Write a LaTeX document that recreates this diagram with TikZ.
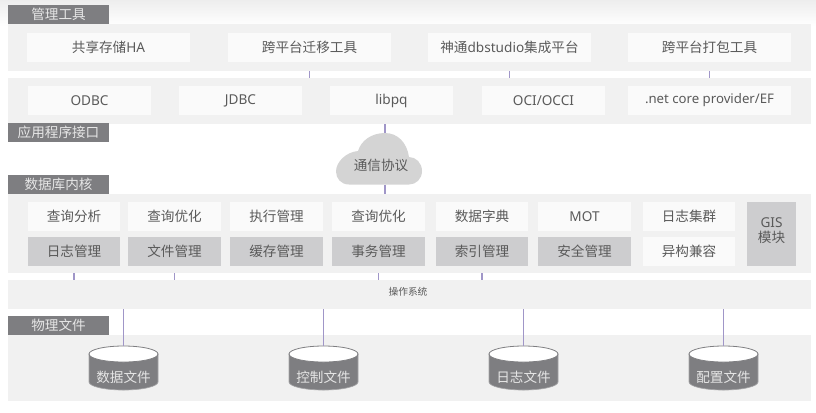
\documentclass[tikz,border=0pt]{standalone}
\usepackage{fontspec}
\setmainfont{Noto Sans}
\newfontfamily\cjk{Noto Sans CJK SC}
\definecolor{panelc}{HTML}{F1F1F1}
\definecolor{boxc}{HTML}{FAFAFA}
\definecolor{darkbox}{HTML}{CDCDCF}
\definecolor{labelc}{HTML}{7E7E81}
\definecolor{labeltext}{HTML}{E6E6E6}
\definecolor{textc}{HTML}{5A5A5A}
\definecolor{linec}{HTML}{A096C8}
\definecolor{cloudc}{HTML}{D4D4D4}
\newcommand{\zh}[1]{{\cjk #1}}
\newcommand{\bx}[7]{\node[#6,minimum width={(#4-#2)*0.75pt},minimum height={(#5-#3)*0.75pt}] (#1) at ({(#2+#4)/2},{(#3+#5)/2}) {#7};}
\newcommand{\cyl}[3]{%
\path[draw=labelc!70,line width=.5pt,fill=labelc] (#2-34.5,354) -- (#2-34.5,382)
  .. controls (#2-34.5,386.4) and (#2-19,390) .. (#2,390)
  .. controls (#2+19,390) and (#2+34.5,386.4) .. (#2+34.5,382) -- (#2+34.5,354) -- cycle;
\path[draw=labelc,line width=.6pt,fill=white] (#2-34.5,354)
  .. controls (#2-34.5,349.6) and (#2-19,346) .. (#2,346)
  .. controls (#2+19,346) and (#2+34.5,349.6) .. (#2+34.5,354)
  .. controls (#2+34.5,358.4) and (#2+19,362) .. (#2,362)
  .. controls (#2-19,362) and (#2-34.5,358.4) .. (#2-34.5,354) -- cycle;
\coordinate (#1top) at (#2,346);
\node[cyltext] (#1) at (#2,377.5) {\zh{#3}};}
\tikzset{
  every node/.style={inner sep=0pt,outer sep=0pt,font=\fontsize{10.2pt}{11pt}\selectfont,text=textc},
  panel/.style={fill=panelc},
  lightbox/.style={fill=boxc},
  graybox/.style={fill=darkbox},
  tag/.style={fill=labelc,text=labeltext},
  cyltext/.style={text=labeltext},
  conn/.style={draw=linec,line width=1pt},
}
\begin{document}
\begin{tikzpicture}[x=0.75pt,y=-0.75pt]
\useasboundingbox (0,0) rectangle (816,412);
\shade[top color=black!7,bottom color=white] (0,0) rectangle (816,26);
\bx{pa}{8}{24}{811}{71}{panel}{}
\bx{pb}{8}{78}{811}{124}{panel}{}
\bx{pc}{8}{194}{811}{273}{panel}{}
\bx{os}{8}{280}{811}{309}{panel}{}
\bx{pd}{8}{335}{811}{401}{panel}{}
\node[font=\fontsize{7.3pt}{8pt}\selectfont] (ostext) at (408,292) {\zh{操作系统}};
\bx{ta}{8}{5}{109}{24}{tag}{\zh{管理工具}}
\bx{tb}{8}{123}{109}{142}{tag}{\zh{应用程序接口}}
\bx{tc}{8}{175}{109}{194}{tag}{\zh{数据库内核}}
\bx{td}{8}{316}{109}{335}{tag}{\zh{物理文件}}
\bx{a1}{27}{33}{190}{62}{lightbox}{\zh{共享存储}HA}
\bx{a2}{228}{33}{391}{62}{lightbox}{\zh{跨平台迁移工具}}
\bx{a3}{428}{33}{591}{62}{lightbox}{\zh{神通}dbstudio\zh{集成平台}}
\bx{a4}{628}{33}{791}{62}{lightbox}{\zh{跨平台打包工具}}
\bx{b1}{28}{86}{151}{115}{lightbox}{ODBC}
\bx{b2}{179}{86}{302}{115}{lightbox}{JDBC}
\bx{b3}{330}{86}{453}{115}{lightbox}{libpq}
\bx{b4}{482}{86}{605}{115}{lightbox}{OCI/OCCI}
\bx{b5}{628}{86}{791}{115}{lightbox,font=\fontsize{9.9pt}{11pt}\selectfont}{.net core provider/EF}
\bx{c1}{28}{202}{120}{231}{lightbox}{\zh{查询分析}}
\bx{c2}{128}{202}{221}{231}{lightbox}{\zh{查询优化}}
\bx{c3}{230}{202}{323}{231}{lightbox}{\zh{执行管理}}
\bx{c4}{332}{202}{425}{231}{lightbox}{\zh{查询优化}}
\bx{c5}{436}{202}{528}{231}{lightbox}{\zh{数据字典}}
\bx{c6}{538}{202}{631}{231}{lightbox}{MOT}
\bx{c7}{643}{202}{735}{231}{lightbox}{\zh{日志集群}}
\bx{d1}{28}{237}{120}{266}{graybox}{\zh{日志管理}}
\bx{d2}{128}{237}{221}{266}{graybox}{\zh{文件管理}}
\bx{d3}{230}{237}{323}{266}{graybox}{\zh{缓存管理}}
\bx{d4}{332}{237}{425}{266}{graybox}{\zh{事务管理}}
\bx{d5}{436}{237}{528}{266}{graybox}{\zh{索引管理}}
\bx{d6}{538}{237}{631}{266}{graybox}{\zh{安全管理}}
\bx{d7}{643}{237}{735}{266}{lightbox}{\zh{异构兼容}}
\bx{gis}{747}{202}{796}{266}{graybox}{}
\node[align=center] (gistext) at (771.5,230.5) {GIS\\\zh{模块}};
% cloud
\fill[cloudc] (349,184.5)
  .. controls (341,184.5) and (336,178.5) .. (336,171.5)
  .. controls (336,162) and (346,152) .. (358,151)
  .. controls (361,141) and (371,133) .. (385,133)
  .. controls (398,133) and (407,143) .. (409,157)
  .. controls (416,157) and (422,163) .. (422,171)
  .. controls (422,179) and (416,184.5) .. (409,184.5) -- cycle;
\node (cloud) at (381,165) {\zh{通信协议}};
\coordinate (cloudtop) at (385,133);
\coordinate (cloudbot) at (385,184.5);
\cyl{e1}{123.5}{数据文件}
\cyl{e2}{323.5}{控制文件}
\cyl{e3}{523.5}{日志文件}
\cyl{e4}{723.5}{配置文件}
% connectors
\foreach \n in {a2,a3,a4}{\draw[conn] (\n.south |- pa.south) -- (\n.south |- pb.north);}
\draw[conn] (cloudtop |- pb.south) -- (cloudtop);
\draw[conn] (cloudbot) -- (cloudbot |- pc.north);
\foreach \n in {d1,d2,d4,d5}{\draw[conn] (\n.south |- pc.south) -- (\n.south |- os.north);}
\foreach \n in {e1,e2,e3,e4}{\draw[conn] (\n top |- os.south) -- (\n top);}
\end{tikzpicture}
\end{document}
